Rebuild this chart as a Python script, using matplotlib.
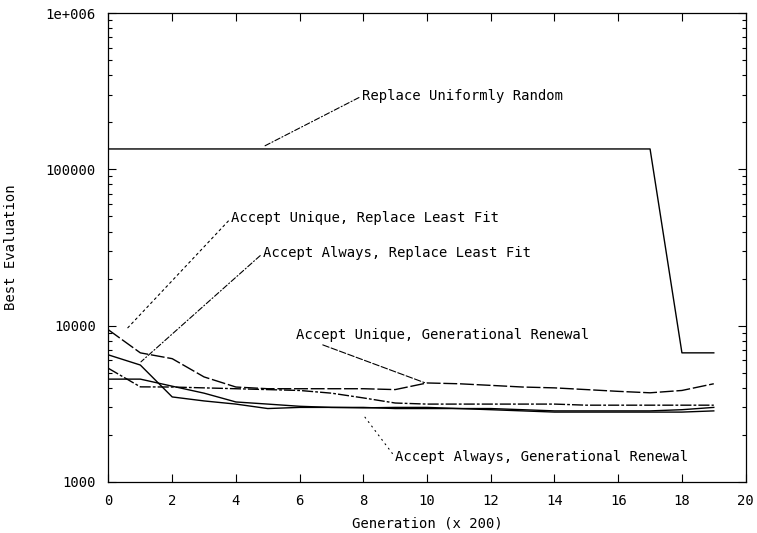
import matplotlib
matplotlib.use("Agg")
import matplotlib.pyplot as plt
from matplotlib.ticker import LogLocator, NullFormatter, FixedLocator

# generations (x 200)
gens = list(range(20))

# best evaluation per strategy
replace_random = [135000] * 18 + [6700, 6700]
unique_gen = [9400, 6700, 6150, 4700, 4050, 3950, 3950, 3950, 3950, 3900,
              4300, 4250, 4150, 4050, 4000, 3900, 3800, 3720, 3850, 4250]
always_least = [6500, 5600, 3500, 3300, 3150, 2950, 3000, 3000, 3000, 2950,
                2950, 2950, 2900, 2850, 2800, 2800, 2800, 2800, 2800, 2850]
unique_least = [5330, 4060, 4050, 4000, 3950, 3900, 3850, 3700, 3450, 3200,
                3150, 3150, 3150, 3150, 3150, 3100, 3100, 3100, 3100, 3100]
always_gen = [4550, 4550, 4100, 3700, 3250, 3150, 3050, 3000, 2980, 3000,
              3000, 2950, 2950, 2900, 2850, 2850, 2850, 2850, 2900, 3000]

# label text, label position, leader end
labels = ["Replace Uniformly Random",
          "Accept Unique, Replace Least Fit",
          "Accept Always, Replace Least Fit",
          "Accept Unique, Generational Renewal",
          "Accept Always, Generational Renewal"]
label_pos = [(7.95, 294000), (3.85, 48800), (4.85, 29100), (5.9, 8700), (9.0, 1440)]
leader_end = [(4.9, 141000), (0.6, 9660), (1.02, 5870), (9.92, 4320), (8.0, 2680)]

x_ticks = list(range(0, 21, 2))
y_ticks = [1000, 10000, 100000, 1000000]
y_ticklabels = ["1000", "10000", "100000", "1e+006"]

FONT = "DejaVu Sans Mono"

fig = plt.figure(figsize=(7.57, 5.33), dpi=100)
ax = fig.add_axes([0.1433, 0.0957, 0.8417, 0.8799])

ax.plot(gens, replace_random, color="black", lw=1.0)
ax.plot(gens, unique_gen, color="black", lw=1.0, linestyle=(0, (10, 2)))
ax.plot(gens, always_least, color="black", lw=1.0)
ax.plot(gens, unique_least, color="black", lw=1.0, linestyle=(0, (8, 1.5, 2, 1.5)))
ax.plot(gens, always_gen, color="black", lw=1.0)

leader_styles = [(0, (5, 2, 1, 2)), (0, (2, 3)), (0, (5, 2, 1, 2)), (0, (6, 2)), (0, (1, 4))]
for text, pos, end, ls in zip(labels, label_pos, leader_end, leader_styles):
    ax.annotate(text, xy=end, xytext=pos, ha="left", va="center",
                fontsize=10, family=FONT,
                arrowprops=dict(arrowstyle="-", color="black", lw=0.8,
                                linestyle=ls, shrinkA=0, shrinkB=0,
                                relpos=(0, 0.5)))

ax.set_yscale("log")
ax.set_xlim(0, 20)
ax.set_ylim(1000, 1000000)
ax.xaxis.set_major_locator(FixedLocator(x_ticks))
ax.set_xticklabels([str(t) for t in x_ticks], family=FONT, fontsize=10)
ax.set_yticks(y_ticks)
ax.set_yticklabels(y_ticklabels, family=FONT, fontsize=10)
ax.yaxis.set_minor_locator(LogLocator(base=10, subs=range(2, 10)))
ax.yaxis.set_minor_formatter(NullFormatter())
ax.tick_params(which="both", direction="in", top=True, right=True, width=0.8)
ax.tick_params(which="major", length=6, pad=9)
ax.tick_params(which="minor", length=3)
for sp in ax.spines.values():
    sp.set_linewidth(0.9)

ax.set_xlabel("Generation (x 200)", family=FONT, fontsize=10, labelpad=6)
ax.set_ylabel("Best Evaluation", family=FONT, fontsize=10, labelpad=20)

fig.savefig("out.png", dpi=100)
